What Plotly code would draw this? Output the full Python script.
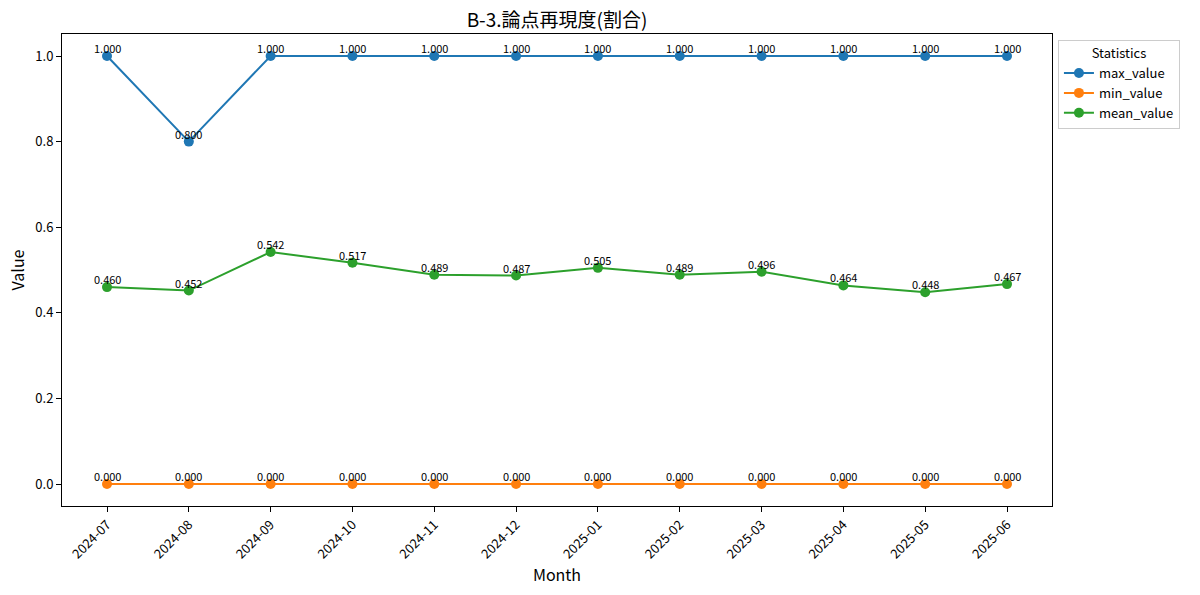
import plotly.graph_objects as go

months = ["2024-07", "2024-08", "2024-09", "2024-10", "2024-11", "2024-12",
          "2025-01", "2025-02", "2025-03", "2025-04", "2025-05", "2025-06"]
max_value = [1.0, 0.8, 1.0, 1.0, 1.0, 1.0, 1.0, 1.0, 1.0, 1.0, 1.0, 1.0]
min_value = [0.0] * 12
mean_value = [0.460, 0.452, 0.542, 0.517, 0.489, 0.487,
              0.505, 0.489, 0.496, 0.464, 0.448, 0.467]

FONT = "Noto Sans CJK JP"
series = [
    ("max_value", max_value, "#1f77b4"),
    ("min_value", min_value, "#ff7f0e"),
    ("mean_value", mean_value, "#2ca02c"),
]

fig = go.Figure()
annotations = []
for name, vals, color in series:
    fig.add_trace(go.Scatter(
        x=list(range(len(months))),
        y=vals,
        mode="lines+markers",
        name=name,
        line=dict(color=color, width=2),
        marker=dict(color=color, size=10),
    ))
    # value label above each point
    for i, v in enumerate(vals):
        annotations.append(dict(
            x=i, y=v, text=f"{v:.3f}", showarrow=False,
            xanchor="center", yanchor="bottom", yshift=-2,
            font=dict(family=FONT, size=11, color="black"),
        ))

fig.update_layout(
    width=1200, height=595,
    paper_bgcolor="white", plot_bgcolor="white",
    font=dict(family=FONT, size=13, color="black"),
    margin=dict(l=62, r=148, t=34, b=89),
    title=dict(text="B-3.論点再現度(割合)", x=0.5, xref="paper",
               y=1 - 20 / 595, yanchor="middle",
               font=dict(family=FONT, size=19)),
    annotations=annotations,
    showlegend=True,
    legend=dict(
        title=dict(text="Statistics", side="top center",
                   font=dict(family=FONT, size=13)),
        x=1.006, y=0.987, xanchor="left", yanchor="top",
        bordercolor="#cccccc", borderwidth=1,
        font=dict(family=FONT, size=13),
        tracegroupgap=2,
    ),
    xaxis=dict(
        range=[-0.55, 11.55],
        tickmode="array",
        tickvals=list(range(len(months))),
        ticktext=months,
        tickangle=-45,
        ticks="outside", ticklen=5, tickcolor="black",
        showgrid=False, zeroline=False, automargin=False,
        showline=True, linecolor="black", linewidth=1, mirror=True,
        title=dict(text="Month", font=dict(size=16), standoff=4),
    ),
    yaxis=dict(
        range=[-0.0514, 1.0514],
        tickvals=[0.0, 0.2, 0.4, 0.6, 0.8, 1.0],
        tickformat=".1f",
        ticks="outside", ticklen=5, tickcolor="black",
        showgrid=False, zeroline=False, automargin=False,
        showline=True, linecolor="black", linewidth=1, mirror=True,
        title=dict(text="Value", font=dict(size=16), standoff=6),
    ),
)

# drop the default body margin so the figure sits at the page corner
fig.write_html("out.html", config={"displayModeBar": False},
               post_script="document.body.style.margin='0';")
